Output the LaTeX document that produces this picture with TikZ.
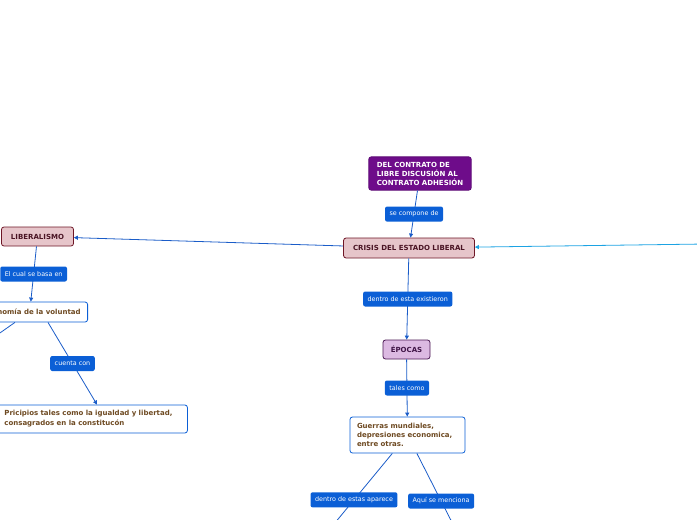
\documentclass[tikz,border=0pt]{standalone}
\usepackage{fontspec}
\setmainfont{DejaVu Sans}
\usepackage{xcolor}
\definecolor{mapblue}{HTML}{0B5FD6}
\definecolor{lineblue}{HTML}{1A5CC8}
\definecolor{skyblue}{HTML}{1CA3E3}
\definecolor{purplebox}{HTML}{6E0C8A}
\definecolor{rosefill}{HTML}{E6C5CA}
\definecolor{roseline}{HTML}{6E1626}
\definecolor{rosetext}{HTML}{4A1424}
\definecolor{lilacfill}{HTML}{DCB9E2}
\definecolor{lilacline}{HTML}{4A1752}
\definecolor{browntext}{HTML}{6E4A22}
\usetikzlibrary{arrows.meta,calc}

\begin{document}
\begin{tikzpicture}[x=1pt, y=-1pt, font=\fontsize{6.4}{8.5}\selectfont,
  tema/.style={rectangle, rounded corners=2.5pt, line width=0.8pt,
    font=\fontsize{7}{9}\selectfont\bfseries},
  rosa/.style={tema, draw=roseline, fill=rosefill, text=rosetext,
    inner xsep=9.5pt, minimum height=20pt},
  blanco/.style={tema, draw=mapblue, fill=white, text=browntext,
    align=left, inner xsep=7pt},
  etiqueta/.style={rectangle, rounded corners=2pt, fill=mapblue, text=white,
    inner xsep=4.5pt, inner ysep=2pt, minimum height=15pt},
  enlace/.style={draw=lineblue, line width=0.8pt,
    -{Triangle[length=4pt,width=4pt]}},
  salida/.style={draw=lineblue, line width=0.8pt}]
  \useasboundingbox (0,0) rectangle (697,520);
  \clip (0,0) rectangle (697,520);

  % temas principales
  \node[tema, fill=purplebox, draw=purplebox!85!black, text=white,
    align=left, inner xsep=8pt, inner ysep=5pt] (contrato) at (420,173.5)
    {DEL CONTRATO DE\\LIBRE DISCUSIÓN AL\\CONTRATO ADHESIÓN};
  \node[rosa] (crisis) at (409,248) {CRISIS DEL ESTADO LIBERAL};
  \node[rosa, minimum height=19pt] (liberalismo) at (37.5,236.5) {LIBERALISMO};
  \node[tema, draw=lilacline, fill=lilacfill, text=lilacline!85!black,
    minimum width=47pt, minimum height=19pt] (epocas) at (406.5,349.5) {ÉPOCAS};

  % subtemas
  \node[blanco, minimum height=20pt, anchor=east] (autonomia) at (88,312)
    {Autonomía de la voluntad};
  \node[blanco, text width=176pt, minimum height=28pt, anchor=west,
    font=\fontsize{7}{10}\selectfont\bfseries] (principios) at (-3,419)
    {Pricipios tales como la igualdad y libertad,\\consagrados en la constitucón};
  \node[blanco, text width=101pt, minimum height=36pt] (guerras) at (407.5,435)
    {Guerras mundiales,\\depresiones economica,\\entre otras.};

  \coordinate (borde) at (705,244);
  \coordinate (salidaA) at (-20,347);
  \coordinate (salidaB) at (320,541);
  \coordinate (salidaC) at (461,540);

  % conexiones
  \draw[enlace] (contrato) -- node[etiqueta] {se compone de} (crisis);
  \draw[enlace] (crisis) -- (liberalismo);
  \draw[enlace, draw=skyblue] (borde) -- (crisis);
  \draw[enlace] (liberalismo) -- node[etiqueta] {El cual se basa en} (autonomia);
  \draw[salida] (autonomia) -- (salidaA);
  \draw[enlace] ($(autonomia.south east)+(-40,0)$) -- node[etiqueta] {cuenta con}
    ($(principios.north west)+(100,0)$);
  \draw[enlace] (crisis) -- node[etiqueta] {dentro de esta existieron} (epocas);
  \draw[enlace] (epocas) -- node[etiqueta] {tales como} (guerras);
  \draw[salida] (guerras) -- node[etiqueta, pos=0.53] {dentro de estas aparece} (salidaB);
  \draw[salida] (guerras) -- node[etiqueta, pos=0.55] {Aquí se menciona} (salidaC);
\end{tikzpicture}
\end{document}
